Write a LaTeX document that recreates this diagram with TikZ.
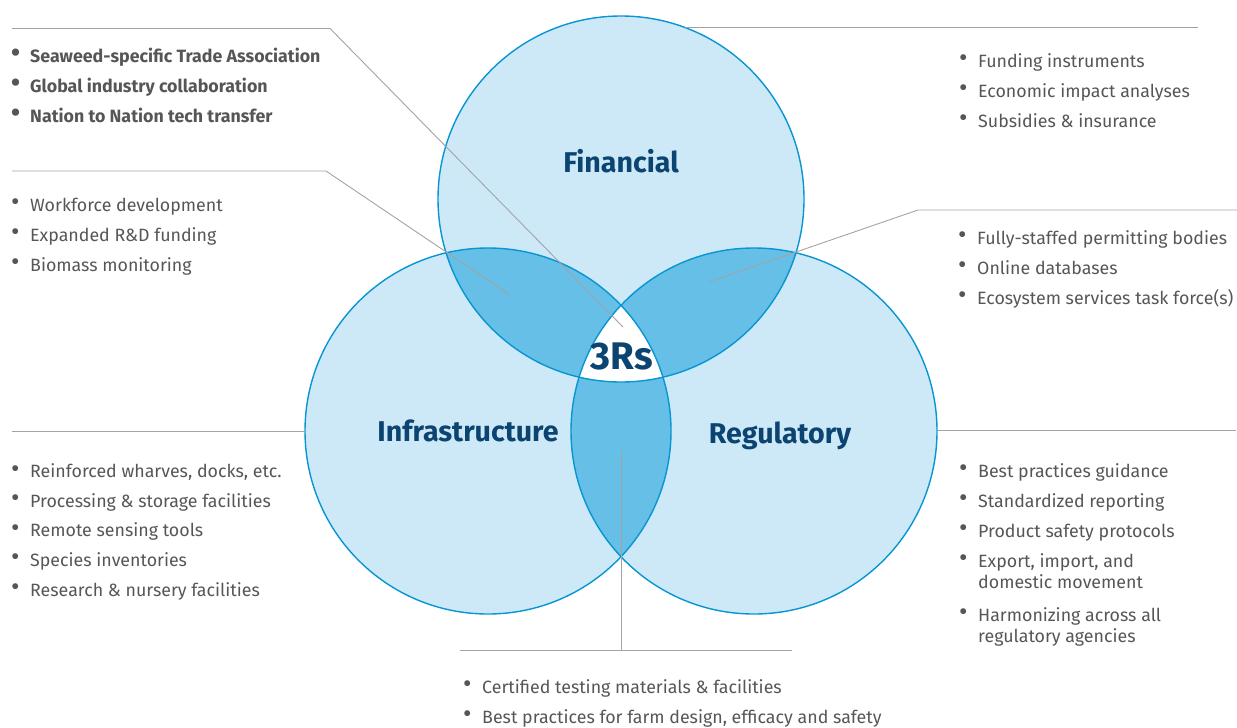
\documentclass[tikz,border=0pt]{standalone}
\usepackage{fontspec}
\setmainfont{Fira Sans}
\definecolor{lightblue}{HTML}{CDE9F7}
\definecolor{midblue}{HTML}{66BFE6}
\definecolor{edgeblue}{HTML}{0795D4}
\definecolor{titleblue}{HTML}{0B4470}
\definecolor{textgray}{HTML}{555658}
\definecolor{leadgray}{HTML}{A3A3A3}
\newcommand\bitem[1]{\llap{\makebox[18pt][l]{\hspace{-1pt}\raisebox{0.5pt}{\fontsize{26}{26}\selectfont\textbullet}}}#1}
\newcommand\listfont{\fontsize{17.8}{30}\selectfont}
\begin{document}
\begin{tikzpicture}[x=1pt,y=-1pt,
venn/.style={line width=1.4pt,draw=edgeblue},
leader/.style={draw=leadgray,line width=0.9pt},
title/.style={font=\fontsize{28.6}{32}\selectfont\bfseries,text=titleblue,inner sep=0pt},
bullets/.style={anchor=base west,align=left,font=\listfont,text=textgray,inner sep=0pt}]
\useasboundingbox (0,0) rectangle (1237,728);
\coordinate (fin) at (621,199);
\coordinate (infra) at (488,431);
\coordinate (reg) at (754,431);

% circles and their overlaps
\fill[lightblue] (fin) circle[radius=183pt] (infra) circle[radius=183pt] (reg) circle[radius=183pt];
\begin{scope}
\clip (fin) circle[radius=183pt];
\fill[midblue] (infra) circle[radius=183pt];
\fill[midblue] (reg) circle[radius=183pt];
\end{scope}
\begin{scope}
\clip (infra) circle[radius=183pt];
\fill[midblue] (reg) circle[radius=183pt];
\end{scope}
\begin{scope}
\clip (fin) circle[radius=183pt];
\clip (infra) circle[radius=183pt];
\fill[white] (reg) circle[radius=183pt];
\end{scope}
\draw[venn] (fin) circle[radius=183pt];
\draw[venn] (infra) circle[radius=183pt];
\draw[venn] (reg) circle[radius=183pt];

% leader lines
\coordinate (core) at (623,327);
\coordinate (fi) at (510,295);
\coordinate (fr) at (709,282);
\coordinate (ir) at (621,451);
\draw[leader] (12,28.5) -- (330,28.5) -- (core);
\draw[leader] (12,171) -- (326,171) -- (fi);
\draw[leader] (685,27) -- (1198,27);
\draw[leader] (1237,210) -- (918,210) -- (fr);
\draw[leader] (12,431.5) -- (305,431.5);
\draw[leader] (937,430) -- (1236,430);
\draw[leader] (ir) -- (621,650);
\draw[leader] (460,650) -- (792,650);

% circle titles
\node[title] (fintitle) at (621,161) {Financial};
\node[title] (infratitle) at (468,431) {Infrastructure};
\node[title] (regtitle) at (780,436) {Regulatory};
\node[title,font=\fontsize{38.5}{42}\selectfont\bfseries] (core title) at (622,356) {3Rs};

% lists (anchored at the baseline of their last line)
\node[bullets,font=\listfont\bfseries] (trade) at (30,122) {\bitem{Seaweed-specific Trade Association}\\
\bitem{Global industry collaboration}\\
\bitem{Nation to Nation tech transfer}};
\node[bullets] (workforce) at (30,271) {\bitem{Workforce development}\\
\bitem{Expanded R\&D funding}\\
\bitem{Biomass monitoring}};
\node[bullets,font=\fontsize{17.8}{29.6}\selectfont] (wharves) at (30,596) {\bitem{Reinforced wharves, docks, etc.}\\
\bitem{Processing \& storage facilities}\\
\bitem{Remote sensing tools}\\
\bitem{Species inventories}\\
\bitem{Research \& nursery facilities}};
\node[bullets] (funding) at (978,127) {\bitem{Funding instruments}\\
\bitem{Economic impact analyses}\\
\bitem{Subsidies \& insurance}};
\node[bullets] (permits) at (977,304) {\bitem{Fully-staffed permitting bodies}\\
\bitem{Online databases}\\
\bitem{Ecosystem services task force(s)}};
\node[bullets] (guidance) at (978,642) {\bitem{Best practices guidance}\\
\bitem{Standardized reporting}\\
\bitem{Product safety protocols}\\
\bitem{Export, import, and}\\[-9pt]
domestic movement\\[3pt]
\bitem{Harmonizing across all}\\[-9pt]
regulatory agencies};
\node[bullets] (testing) at (482,723) {\bitem{Certified testing materials \& facilities}\\
\bitem{Best practices for farm design, efficacy and safety}};
\end{tikzpicture}
\end{document}
